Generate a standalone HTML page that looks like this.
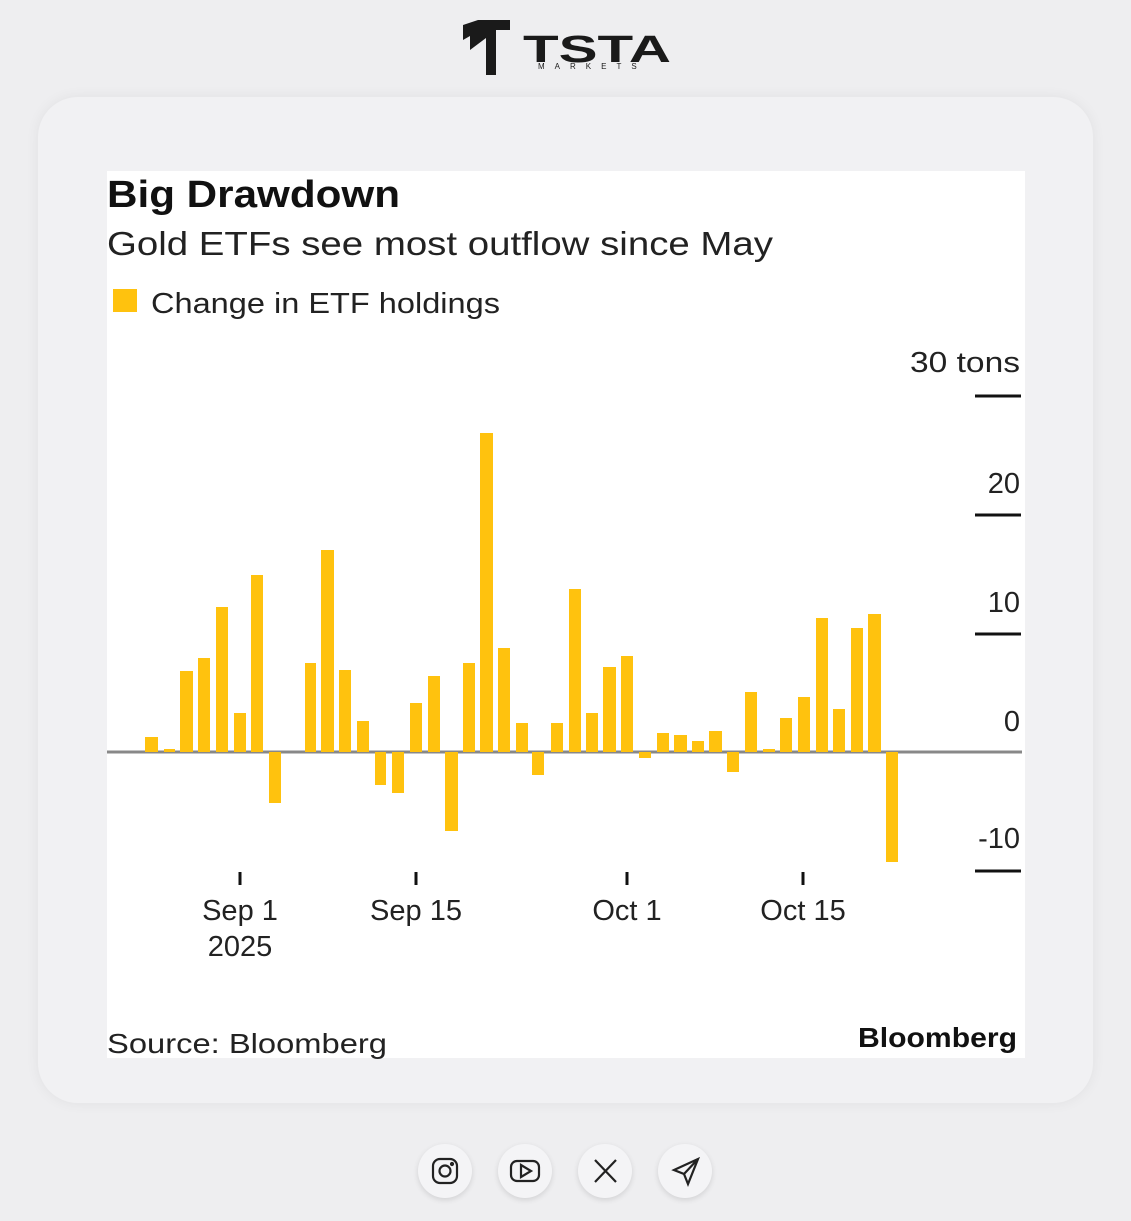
<!DOCTYPE html>
<html><head><meta charset="utf-8"><style>
body{margin:0;width:1131px;height:1221px;background:#eeeef0;overflow:hidden;position:relative;font-family:"Liberation Sans",sans-serif}
.card{position:absolute;left:38px;top:97px;width:1055px;height:1006px;background:#f1f1f3;border-radius:40px;box-shadow:0 0 14px rgba(0,0,0,0.06)}
.chart{position:absolute;left:107px;top:171px;width:918px;height:887px;background:#fff}
.ic{position:absolute;top:1144px;width:54px;height:54px;border-radius:50%;background:#f4f4f6;box-shadow:0 2px 6px rgba(0,0,0,0.12)}
</style></head><body>
<div class="card"></div>
<div class="chart"></div>
<svg width="1131" height="1221" style="position:absolute;left:0;top:0">
<g fill="#1a1a1a">
<polygon points="463,25 478,20 510,20 510,30 496,30 496,75 486,75 486,38 470,50 470,36 463,40"/>
<text x="523" y="62" font-size="38" font-weight="bold" font-family="Liberation Sans" textLength="148" lengthAdjust="spacingAndGlyphs">TSTA</text>
<text x="538" y="69" font-size="8" letter-spacing="10" font-family="Liberation Sans">MARKETS</text>
</g>
<g font-family="Liberation Sans" fill="#111">
<text x="107" y="207" font-size="38" font-weight="bold" textLength="293" lengthAdjust="spacingAndGlyphs">Big Drawdown</text>
<text x="107" y="255" font-size="33" fill="#222" textLength="666" lengthAdjust="spacingAndGlyphs">Gold ETFs see most outflow since May</text>
<rect x="113" y="289" width="24" height="23" fill="#ffc20e"/>
<text x="151" y="313" font-size="29" fill="#222" textLength="349" lengthAdjust="spacingAndGlyphs">Change in ETF holdings</text>
<g font-size="29" text-anchor="end" fill="#222">
<text x="1020" y="372" textLength="110" lengthAdjust="spacingAndGlyphs">30 tons</text><text x="1020" y="493">20</text><text x="1020" y="612">10</text><text x="1020" y="731">0</text><text x="1020" y="848">-10</text>
</g>
<g stroke="#111" stroke-width="3">
<line x1="975" y1="396" x2="1021" y2="396"/><line x1="975" y1="515" x2="1021" y2="515"/><line x1="975" y1="634" x2="1021" y2="634"/><line x1="975" y1="871" x2="1021" y2="871"/>
<line x1="240" y1="872" x2="240" y2="885"/><line x1="416" y1="872" x2="416" y2="885"/><line x1="627" y1="872" x2="627" y2="885"/><line x1="803" y1="872" x2="803" y2="885"/>
</g>
<line x1="107" y1="752" x2="1022" y2="752" stroke="#888" stroke-width="3"/>
<g font-size="29" text-anchor="middle" fill="#222">
<text x="240" y="920">Sep 1</text><text x="240" y="956">2025</text><text x="416" y="920">Sep 15</text><text x="627" y="920">Oct 1</text><text x="803" y="920">Oct 15</text>
</g>
<text x="107" y="1053" font-size="28" fill="#222" textLength="280" lengthAdjust="spacingAndGlyphs">Source: Bloomberg</text>
<text x="858" y="1047" font-size="28" font-weight="bold" textLength="159" lengthAdjust="spacingAndGlyphs">Bloomberg</text>
</g>
</svg>
<div class="ic" style="left:418px"></div><div class="ic" style="left:498px"></div><div class="ic" style="left:578px"></div><div class="ic" style="left:658px"></div>
<svg width="1131" height="1221" style="position:absolute;left:0;top:0">
<g fill="none" stroke="#222" stroke-width="2.2">
<rect x="433" y="1159" width="24" height="24" rx="7"/><circle cx="445" cy="1171" r="5.5"/><circle cx="452" cy="1164" r="1" fill="#222"/>
<rect x="511" y="1161" width="28" height="20" rx="6"/><polygon points="521,1165 531,1171 521,1177"/>
<path d="M595 1160 L616 1182 M616 1160 L595 1182"/>
<path d="M674 1170 L698 1159 L688 1184 L684 1174 Z M684 1174 L698 1159"/>
</g>
<g fill="#ffc20e">
<rect x="145" y="737" width="13" height="15"/><rect x="164" y="749" width="11" height="3"/>
<rect x="180" y="671" width="13" height="81"/><rect x="198" y="658" width="12" height="94"/>
<rect x="216" y="607" width="12" height="145"/><rect x="234" y="713" width="12" height="39"/>
<rect x="251" y="575" width="12" height="177"/><rect x="269" y="752" width="12" height="51"/>
<rect x="305" y="663" width="11" height="89"/><rect x="321" y="550" width="13" height="202"/>
<rect x="339" y="670" width="12" height="82"/><rect x="357" y="721" width="12" height="31"/>
<rect x="375" y="752" width="11" height="33"/><rect x="392" y="752" width="12" height="41"/>
<rect x="410" y="703" width="12" height="49"/><rect x="428" y="676" width="12" height="76"/>
<rect x="445" y="752" width="13" height="79"/><rect x="463" y="663" width="12" height="89"/>
<rect x="480" y="433" width="13" height="319"/><rect x="498" y="648" width="12" height="104"/>
<rect x="516" y="723" width="12" height="29"/><rect x="532" y="752" width="12" height="23"/>
<rect x="551" y="723" width="12" height="29"/><rect x="569" y="589" width="12" height="163"/>
<rect x="586" y="713" width="12" height="39"/><rect x="603" y="667" width="13" height="85"/>
<rect x="621" y="656" width="12" height="96"/><rect x="639" y="752" width="12" height="6"/>
<rect x="657" y="733" width="12" height="19"/><rect x="674" y="735" width="13" height="17"/>
<rect x="692" y="741" width="12" height="11"/><rect x="709" y="731" width="13" height="21"/>
<rect x="727" y="752" width="12" height="20"/><rect x="745" y="692" width="12" height="60"/>
<rect x="763" y="749" width="12" height="3"/><rect x="780" y="718" width="12" height="34"/>
<rect x="798" y="697" width="12" height="55"/><rect x="816" y="618" width="12" height="134"/>
<rect x="833" y="709" width="12" height="43"/><rect x="851" y="628" width="12" height="124"/>
<rect x="868" y="614" width="13" height="138"/><rect x="886" y="752" width="12" height="110"/>
</g>
</svg>
</body></html>
